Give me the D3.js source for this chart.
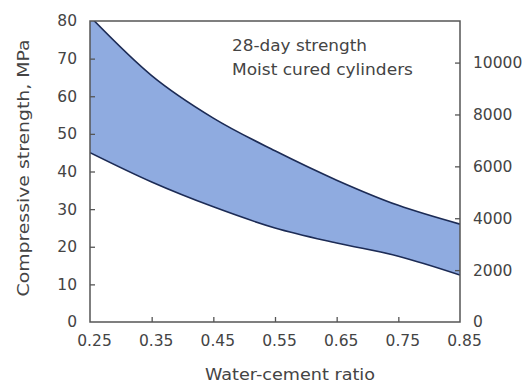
<!DOCTYPE html>
<html><head><meta charset="utf-8">
<script src="https://cdn.jsdelivr.net/npm/d3@7"></script>
<style>
html,body{margin:0;padding:0;background:#fff;}
svg{display:block;}
text{font-family:"DejaVu Sans","Liberation Sans",Arial,sans-serif;fill:#444;}
</style></head>
<body><svg id="c" width="528" height="383"></svg>
<script>
const wcRatio = [0.25, 0.35, 0.45, 0.55, 0.65, 0.75, 0.85];
const upperMPa = [81.2, 65.5, 54.2, 45.5, 37.7, 31.0, 26.0];
const lowerMPa = [45.0, 37.2, 30.6, 25.0, 21.0, 17.5, 12.5];
const xTicks = [0.25, 0.35, 0.45, 0.55, 0.65, 0.75, 0.85];
const yTicks = [0, 10, 20, 30, 40, 50, 60, 70, 80];
const psiTicks = [0, 2000, 4000, 6000, 8000, 10000];
const noteLines = ["28-day strength", "Moist cured cylinders"];

const svg = d3.select("#c");
const L = 90, R = 460, T = 21, B = 322;
const x = d3.scaleLinear().domain([0.25, 0.85]).range([L, R]);
const y = d3.scaleLinear().domain([0, 80]).range([B, T]);
const MPA_PER_PSI = 0.00689476;
const yPsi = d3.scaleLinear().domain([0, 80 / MPA_PER_PSI]).range([B, T]);

svg.append("clipPath").attr("id", "clip").append("rect")
  .attr("x", L).attr("y", T).attr("width", R - L).attr("height", B - T);

const data = wcRatio.map((w, i) => ({w, hi: upperMPa[i], lo: lowerMPa[i]}));
const g = svg.append("g").attr("clip-path", "url(#clip)");
g.append("path").datum(data)
  .attr("d", d3.area().x(d => x(d.w)).y0(d => y(d.lo)).y1(d => y(d.hi)).curve(d3.curveMonotoneX))
  .attr("fill", "#8fabe0");
["hi", "lo"].forEach(k => {
  g.append("path").datum(data)
    .attr("d", d3.line().x(d => x(d.w)).y(d => y(d[k])).curve(d3.curveMonotoneX))
    .attr("fill", "none").attr("stroke", "#1c2b55").attr("stroke-width", 1.6);
});

// frame
svg.append("rect").attr("x", L).attr("y", T).attr("width", R - L).attr("height", B - T)
  .attr("fill", "none").attr("stroke", "#555").attr("stroke-width", 1.5);

const styleAxis = (sel) => {
  sel.select(".domain").remove();
  sel.selectAll(".tick line").attr("stroke", "#555").attr("stroke-width", 1.3);
  sel.selectAll(".tick text").style("font-size", "15.5px")
    .style("font-family", "'DejaVu Sans', sans-serif").attr("fill", "#555");
};

// left axis (ticks inside)
const ay = svg.append("g").attr("transform", `translate(${L},0)`)
  .call(d3.axisLeft(y).tickValues(yTicks).tickSize(-5).tickPadding(13).tickFormat(d3.format("d")));
styleAxis(ay);
ay.selectAll(".tick line").filter(d => d === 0 || d === 80).remove();

// right axis psi (ticks inside)
const ar = svg.append("g").attr("transform", `translate(${R},0)`)
  .call(d3.axisRight(yPsi).tickValues(psiTicks).tickSize(-5).tickPadding(13).tickFormat(d3.format("d")));
styleAxis(ar);
ar.selectAll(".tick line").filter(d => d === 0).remove();

// bottom axis (ticks inside)
const ax = svg.append("g").attr("transform", `translate(0,${B})`)
  .call(d3.axisBottom(x).tickValues(xTicks).tickSize(-5).tickPadding(13).tickFormat(d3.format(".2f")));
styleAxis(ax);
ax.selectAll(".tick text").attr("dx", 4);
ax.selectAll(".tick line").filter(d => d === 0.25 || d === 0.85).remove();

// titles
svg.append("text").attr("transform", `translate(29,168) rotate(-90)`)
  .attr("text-anchor", "middle").style("font-size", "16px").attr("fill", "#555")
  .attr("textLength", 257).attr("lengthAdjust", "spacingAndGlyphs")
  .text("Compressive strength, MPa");
svg.append("text").attr("x", 290).attr("y", 380)
  .attr("text-anchor", "middle").style("font-size", "15px").attr("fill", "#555")
  .attr("textLength", 170).attr("lengthAdjust", "spacingAndGlyphs")
  .text("Water-cement ratio");

const noteLen = [135, 181];
noteLines.forEach((t, i) => {
  svg.append("text").attr("x", 232).attr("y", 51 + i * 24)
    .style("font-size", "15.5px").attr("fill", "#444")
    .attr("textLength", noteLen[i]).attr("lengthAdjust", "spacingAndGlyphs")
    .text(t);
});
</script></body></html>
